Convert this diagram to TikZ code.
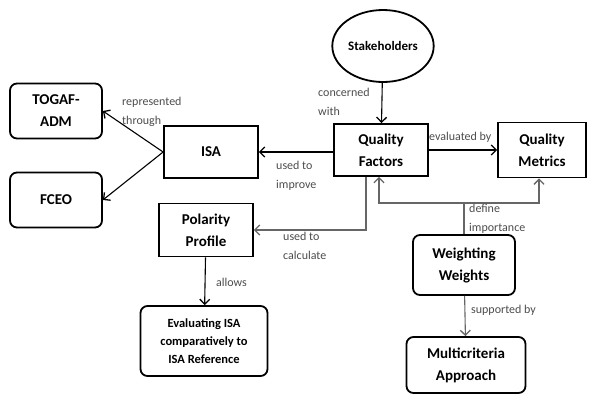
\documentclass[tikz,border=0pt]{standalone}
\usepackage{fontspec}
\setmainfont{Carlito}
\usetikzlibrary{arrows.meta,shapes.geometric}

\begin{document}
\begin{tikzpicture}[x=1pt,y=-1pt]
\tikzset{box/.style = {shape=rectangle,draw,line width=1.8pt,align=center,font=\bfseries\fontsize{15}{22}\selectfont}}
\tikzset{rbox/.style = {box,rounded corners=7pt}}
\tikzset{edge/.style = {->,> = {Straight Barb[length=5pt,width=10pt,line width=1.3pt]},line width=1.1pt}}
\tikzset{grayedge/.style = {edge,draw=black!60}}
\tikzset{lbl/.style = {font=\fontsize{12}{19}\selectfont,text=black!70,align=left,inner sep=1pt}}

\useasboundingbox (0,0) rectangle (589,397);

\node[draw,ellipse,line width=1.8pt,minimum width=87pt,minimum height=72pt,inner sep=1pt,font=\bfseries\fontsize{13}{15}\selectfont] (stake) at (383,46) {Stakeholders};
\node[box,minimum width=94pt,minimum height=52pt] (qf) at (381,150) {Quality\\Factors};
\node[box,minimum width=88pt,minimum height=55pt] (qm) at (542,150) {Quality\\Metrics};
\node[box,minimum width=94pt,minimum height=52pt] (isa) at (211,152) {ISA};
\node[rbox,minimum width=92pt,minimum height=55pt] (togaf) at (56,111) {TOGAF-\\ADM};
\node[rbox,minimum width=92pt,minimum height=55pt] (fceo) at (56,200) {FCEO};
\node[box,minimum width=94pt,minimum height=53pt] (pp) at (206,230) {Polarity\\Profile};
\node[rbox,minimum width=127pt,minimum height=70pt,font=\bfseries\fontsize{12.5}{18}\selectfont] (eval) at (204,341) {Evaluating ISA\\comparatively to\\ISA Reference};
\node[rbox,minimum width=102pt,minimum height=60pt] (ww) at (464,265) {Weighting\\Weights};
\node[rbox,minimum width=119pt,minimum height=56pt] (mca) at (466,365) {Multicriteria\\Approach};

\coordinate (join) at (464,203);

\draw[edge] (stake) -- (qf);
\draw[edge] (qf.east) -- (qf.east -| qm.west);
\draw[edge] (qf.west |- isa.east) -- (isa.east);
\draw[edge] (isa.west) -- (togaf.east);
\draw[edge] (isa.west) -- (fceo.east);
\draw[grayedge] ([xshift=-15pt]qf.south) |- (pp.east);
\draw[edge] (pp) -- (eval);
\draw[draw=black!60,line width=1.1pt] (ww.north) -- (join);
\draw[grayedge] (join) -| ([xshift=-2pt]qf.south);
\draw[grayedge] (join) -| ([xshift=-3pt]qm.south);
\draw[grayedge] (ww) -- (mca);

\node[lbl,anchor=north west] (l1) at (317,87) {concerned\\with};
\node[lbl,anchor=west] (l2) at (428,137) {evaluated by};
\node[lbl,anchor=north west] (l3) at (275,160) {used to\\improve};
\node[lbl,anchor=north west] (l4) at (121,96) {represented\\through};
\node[lbl,anchor=north west] (l5) at (282,231) {used to\\calculate};
\node[lbl,anchor=north west] (l6) at (468,203) {define\\importance};
\node[lbl,anchor=west] (l7) at (215,282) {allows};
\node[lbl,anchor=west] (l8) at (470,310) {supported by};

\end{tikzpicture}
\end{document}
